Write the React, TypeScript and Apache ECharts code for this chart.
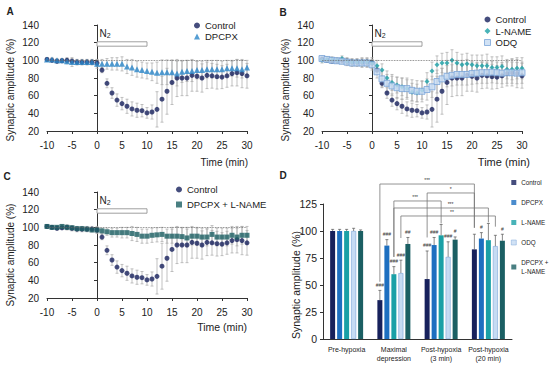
import React, { useEffect, useRef } from 'react';
import * as echarts from 'echarts';

// ---------- data ----------
const times = [-10, -9, -8, -7, -6, -5, -4, -3, -2, -1, 0, 1, 2, 3, 4, 5, 6, 7, 8, 9, 10, 11, 12, 13, 14, 15, 16, 17, 18, 19, 20, 21, 22, 23, 24, 25, 26, 27, 28, 29, 30];

const controlVals = [101, 100, 99, 99.5, 100, 99, 98, 98, 98, 98, 97, 89, 74, 63, 55, 51, 48, 45, 43.5, 43, 40.5, 41.5, 44.5, 56, 65, 75, 80, 80, 80, 83, 82, 80, 83, 82.5, 81.5, 81, 82.5, 85, 86, 85, 82.5];
const controlErr = [2, 2, 2, 2, 3, 3, 3, 3, 3, 3, 4, 3, 5, 6, 7, 7, 8, 8, 8, 7, 6, 8, 20, 26, 26, 25, 21, 20, 20, 18, 17, 16, 15, 14, 14, 13, 13, 14, 15, 16, 14];

const dpcpxVals = [101, 101, 100, 100, 99, 98, 98, 98, 98, 98, 96, 96, 96, 96, 96, 96, 93, 92, 90, 89, 88, 87, 86, 86.5, 86.5, 86.5, 85, 87, 88, 88, 89, 89, 90, 90, 90, 90, 91, 91, 91, 90, 92];
const dpcpxErr = [2, 2, 2, 2, 3, 5, 3, 3, 3, 3, 5, 5, 6, 7, 7, 8, 8, 9, 9, 9, 9, 10, 12, 14, 14, 14, 14, 12, 12, 12, 10, 10, 10, 10, 10, 9, 9, 9, 10, 10, 8];

const lnameVals = [100, 101, 101, 100, 102, 99, 98, 98, 98, 98, 97, 94, 89, 80, 75, 72, 70, 68, 64, 63, 66, 76, 88, 95, 97, 97, 100, 97, 95, 96, 95, 94, 94, 94, 92, 92, 93, 90, 90, 91, 91];
const lnameErr = [3, 3, 3, 3, 3, 4, 4, 4, 5, 5, 6, 6, 7, 8, 9, 9, 10, 10, 10, 10, 10, 10, 10, 10, 11, 12, 12, 12, 12, 12, 11, 12, 12, 13, 12, 12, 12, 11, 12, 12, 12];

const odqVals = [102, 101, 100, 99.5, 99, 98, 97, 97, 97, 97, 95, 87, 79, 74, 71, 69, 68, 68, 66, 65, 65, 67, 70, 76, 79, 82, 83, 84, 84, 84, 85, 85.5, 86, 86, 86.5, 86, 85.5, 86, 86, 85.5, 86];
const odqErr = [3, 3, 3, 3, 3, 4, 4, 4, 5, 5, 6, 7, 9, 10, 11, 12, 12, 12, 12, 12, 12, 12, 12, 13, 12, 12, 12, 12, 12, 12, 12, 12, 12, 12, 12, 12, 12, 12, 12, 12, 12];

const dlVals = [101, 100, 100, 101, 100, 99.5, 98.5, 98.5, 98, 97, 97, 96, 95, 94, 94, 94, 94, 93, 92, 90, 90, 91, 91.5, 92, 90, 90, 90, 89.5, 88, 90, 90, 89, 89, 92, 89, 89, 89, 91, 89, 91, 91];
const dlErr = [2, 2, 2, 2, 2, 2, 2, 2, 2, 2, 3, 3, 4, 5, 5, 6, 6, 8, 8, 8, 8, 8, 8, 8, 8, 8, 10, 10, 10, 10, 10, 10, 10, 10, 10, 10, 10, 10, 10, 10, 10];

const barCategories = ['Pre-hypoxia', 'Maximal\ndepression', 'Post-hypoxia\n(3 min)', 'Post-hypoxia\n(20 min)'];
const barNames = ['Control', 'DPCPX', 'L-NAME', 'ODQ', 'DPCPX + L-NAME'];
const ctrlBar = [100, 36, 55.5, 83];
const dpcpxBar = [100, 86.5, 87, 93];
const lnameBar = [100, 60, 96, 91.5];
const odqBar = [100, 61, 76, 86];
const dlBar = [100, 88, 92, 91];
const ctrlBarErr = [1.5, 9, 26, 14];
const dpcpxBarErr = [1.5, 5.5, 7, 5.5];
const lnameBarErr = [1.5, 7, 10, 15.5];
const odqBarErr = [2.5, 12, 14, 10];
const dlBarErr = [1, 6, 2.5, 6];
const ctrlSig = ['', '###', '###', ''];
const dpcpxSig = ['', '###', '###', '#'];
const lnameSig = ['', '###', '', ''];
const odqSig = ['', '###', '###', ''];
const dlSig = ['', '##', '#', '#'];

// brackets: [fromCat, fromBar, toCat, toBar, level, dropFrom, dropTo, labelFrac]
const brackets = [
  [1, 0, 3, 0, 143.5, 53, 103, 0.5],
  [2, 0, 3, 0, 135.2, 94, 103, 0.5],
  [1, 2, 2, 2, 127.8, 76, 107, 0.45],
  [1, 2, 3, 2, 121.3, 76, 108, 0.6],
  [1, 3, 3, 3, 113.9, 93.5, 104, 0.54],
];
const bracketLabels = ['***', '*', '***', '***', '**'];

// ---------- styles ----------
const FONT = 'Liberation Sans, Arial, sans-serif';
const navy = '#17215c';
const dpcpxA = '#2a86c8';
const dpcpxB = '#1d6fc0';
const teal = '#1aa0a6';
const odqFill = '#c6dbf3';
const odqBorder = '#7aa5d8';
const darkTeal = '#1b5f63';
const barColors = [navy, dpcpxB, teal, odqFill, darkTeal];
const barData = [ctrlBar, dpcpxBar, lnameBar, odqBar, dlBar];
const barErrs = [ctrlBarErr, dpcpxBarErr, lnameBarErr, odqBarErr, dlBarErr];
const barSigs = [ctrlSig, dpcpxSig, lnameSig, odqSig, dlSig];
const BAR_W = 5;
const BAR_STEP = 7;

function errRender(color: string, cap: number) {
  return (params: any, api: any) => {
    const x = api.value(0), y = api.value(1), e = api.value(2);
    const hi = api.coord([x, y + e]);
    const lo = api.coord([x, y - e]);
    const st = { stroke: color, lineWidth: 0.7 };
    return {
      type: 'group',
      children: [
        { type: 'line', shape: { x1: hi[0], y1: hi[1], x2: lo[0], y2: lo[1] }, style: st },
        { type: 'line', shape: { x1: hi[0] - cap, y1: hi[1], x2: hi[0] + cap, y2: hi[1] }, style: st },
        { type: 'line', shape: { x1: lo[0] - cap, y1: lo[1], x2: lo[0] + cap, y2: lo[1] }, style: st },
      ],
    };
  };
}

function scatterPair(name: string, vals: number[], errs: number[], idx: number, symbol: string, size: number, color: string, extra: any = {}) {
  return [
    {
      type: 'custom',
      name: name + '-err',
      xAxisIndex: idx,
      yAxisIndex: idx,
      renderItem: errRender('#a8a8a8', 1.5),
      data: times.map((t, i) => [t, vals[i], errs[i]]),
      encode: { x: 0, y: 1 },
      silent: true,
      z: 1,
    },
    {
      type: 'scatter',
      name,
      xAxisIndex: idx,
      yAxisIndex: idx,
      symbol,
      symbolSize: size,
      itemStyle: { color, ...(extra.itemStyle || {}) },
      data: times.map((t, i) => [t, vals[i]]),
      z: 3,
      ...(extra.series || {}),
    },
  ];
}

function annotations() {
  return {
    markArea: {
      silent: true,
      itemStyle: { color: '#ffffff', borderColor: '#888', borderWidth: 0.8 },
      label: {
        show: true,
        position: [3, -14],
        formatter: 'N{s|2}',
        fontSize: 10,
        color: '#222',
        fontFamily: FONT,
        rich: { s: { fontSize: 7, padding: [5, 0, 0, 0], color: '#222', fontFamily: FONT } },
      },
      data: [[{ xAxis: 0, yAxis: 116 }, { xAxis: 10, yAxis: 121 }]],
    },
    markLine: {
      silent: true,
      symbol: 'none',
      label: { show: false },
      lineStyle: { color: '#666', type: 'dotted', width: 0.8 },
      data: [[{ coord: [-10, 100] }, { coord: [30, 100] }]],
    },
  };
}

const axisColor = '#333';
function timeXAxis(gridIndex: number) {
  return {
    type: 'value',
    gridIndex,
    min: -10,
    max: 30,
    interval: 5,
    axisLine: { show: true, onZero: false, lineStyle: { color: axisColor, width: 1 } },
    axisTick: { show: true, length: 3, lineStyle: { color: axisColor } },
    axisLabel: { fontSize: 10, color: '#222', margin: 9, fontFamily: FONT },
    splitLine: { show: false },
  };
}
function ampYAxis(gridIndex: number) {
  return {
    type: 'value',
    gridIndex,
    min: 20,
    max: 140,
    interval: 20,
    axisLine: { show: true, lineStyle: { color: axisColor, width: 1 } },
    axisTick: { show: true, length: 3, lineStyle: { color: axisColor } },
    axisLabel: { fontSize: 10, color: '#222', margin: 8, fontFamily: FONT },
    splitLine: { show: false },
  };
}

function txt(text: string, x: number, y: number, size: number, opts: any = {}) {
  return {
    type: 'text',
    x,
    y,
    rotation: opts.rotation || 0,
    style: {
      text,
      fontSize: size,
      fontFamily: FONT,
      fontWeight: opts.bold ? 'bold' : 'normal',
      fill: '#222',
      align: opts.align || 'center',
      verticalAlign: 'middle',
    },
    silent: true,
  };
}

function buildOption() {
  const series: any[] = [];
  // Panel A
  series.push(...scatterPair('Control', controlVals, controlErr, 0, 'circle', 5, navy, { series: annotations() }));
  series.push(...scatterPair('DPCPX', dpcpxVals, dpcpxErr, 0, 'triangle', 6, dpcpxA));
  // Panel B
  series.push(...scatterPair('Control', controlVals, controlErr, 1, 'circle', 5, navy, { series: annotations() }));
  series.push(...scatterPair('L-NAME', lnameVals, lnameErr, 1, 'diamond', 5, teal));
  series.push(...scatterPair('ODQ', odqVals, odqErr, 1, 'rect', 6, odqFill, { itemStyle: { borderColor: odqBorder, borderWidth: 1 } }));
  // Panel C
  series.push(...scatterPair('Control', controlVals, controlErr, 2, 'circle', 5, navy, { series: annotations() }));
  series.push(...scatterPair('DPCPX + L-NAME', dlVals, dlErr, 2, 'rect', 5, darkTeal));

  // Panel D bars
  barNames.forEach((name, s) => {
    series.push({
      type: 'bar',
      name,
      xAxisIndex: 3,
      yAxisIndex: 3,
      barWidth: BAR_W,
      barGap: '40%',
      itemStyle: s === 3 ? { color: odqFill, borderColor: odqBorder, borderWidth: 0.6 } : { color: barColors[s] },
      data: barData[s],
      z: 2,
    });
  });
  // Panel D error bars + significance marks
  const errData: number[][] = [];
  barNames.forEach((_, s) => {
    barCategories.forEach((_c, c) => {
      errData.push([c, s, barData[s][c], barErrs[s][c]]);
    });
  });
  series.push({
    type: 'custom',
    name: 'bar-err',
    xAxisIndex: 3,
    yAxisIndex: 3,
    silent: true,
    clip: false,
    z: 4,
    encode: { x: 0, y: 2 },
    data: errData,
    renderItem: (params: any, api: any) => {
      const c = api.value(0), s = api.value(1), v = api.value(2), e = api.value(3);
      const base = api.coord([c, v]);
      const top = api.coord([c, v + e]);
      const x = base[0] + (s - 2) * BAR_STEP;
      const st = { stroke: '#555', lineWidth: 0.7 };
      const children: any[] = [
        { type: 'line', shape: { x1: x, y1: base[1], x2: x, y2: top[1] }, style: st },
        { type: 'line', shape: { x1: x - 1.5, y1: top[1], x2: x + 1.5, y2: top[1] }, style: st },
      ];
      const sig = barSigs[s][c];
      if (sig) {
        children.push({
          type: 'text',
          x,
          y: top[1] - 3,
          style: { text: sig, fontSize: 5, fontFamily: FONT, fill: '#333', align: 'center', verticalAlign: 'bottom' },
        });
      }
      return { type: 'group', children };
    },
  });
  // Panel D brackets
  series.push({
    type: 'custom',
    name: 'brackets',
    xAxisIndex: 3,
    yAxisIndex: 3,
    silent: true,
    clip: false,
    z: 3,
    encode: { x: 0, y: 4 },
    data: brackets,
    renderItem: (params: any, api: any) => {
      const fc = api.value(0), fb = api.value(1), tc = api.value(2), tb = api.value(3);
      const lvl = api.value(4), d1 = api.value(5), d2 = api.value(6), frac = api.value(7);
      const x1 = api.coord([fc, 0])[0] + (fb - 2) * BAR_STEP;
      const x2 = api.coord([tc, 0])[0] + (tb - 2) * BAR_STEP;
      const yl = api.coord([0, lvl])[1];
      const ya = api.coord([0, d1])[1];
      const yb = api.coord([0, d2])[1];
      return {
        type: 'group',
        children: [
          {
            type: 'polyline',
            shape: { points: [[x1, ya], [x1, yl], [x2, yl], [x2, yb]] },
            style: { stroke: '#777', lineWidth: 0.8, fill: 'none' },
          },
          {
            type: 'text',
            x: x1 + (x2 - x1) * frac,
            y: yl - 1.5,
            style: { text: bracketLabels[params.dataIndex], fontSize: 5, fontFamily: FONT, fill: '#333', align: 'center', verticalAlign: 'bottom' },
          },
        ],
      };
    },
  });

  const legendBase = { orient: 'vertical', selectedMode: false, padding: 0, itemWidth: 5, itemHeight: 5 };
  const legendText = { fontSize: 9.5, lineHeight: 11, color: '#222', fontFamily: FONT, overflow: 'none' };

  return {
    animation: false,
    textStyle: { fontFamily: FONT },
    grid: [
      { left: 47, top: 25, width: 200, height: 106 },
      { left: 322, top: 25, width: 200, height: 106 },
      { left: 47, top: 192, width: 200, height: 106 },
      { left: 323, top: 204, width: 189, height: 135 },
    ],
    xAxis: [
      timeXAxis(0),
      timeXAxis(1),
      timeXAxis(2),
      {
        type: 'category',
        gridIndex: 3,
        data: barCategories,
        axisLine: { show: true, lineStyle: { color: axisColor, width: 1 } },
        axisTick: { show: false },
        axisLabel: { fontSize: 7, lineHeight: 9, color: '#222', margin: 6, interval: 0, fontFamily: FONT },
      },
    ],
    yAxis: [
      ampYAxis(0),
      ampYAxis(1),
      ampYAxis(2),
      {
        type: 'value',
        gridIndex: 3,
        min: 0,
        max: 125,
        interval: 25,
        axisLine: { show: true, lineStyle: { color: axisColor, width: 1 } },
        axisTick: { show: true, length: 3, lineStyle: { color: axisColor } },
        axisLabel: { fontSize: 10.5, color: '#222', margin: 6, fontFamily: FONT },
        splitLine: { show: false },
      },
    ],
    legend: [
      {
        ...legendBase,
        left: 194,
        top: 20,
        itemGap: 0,
        itemWidth: 6,
        itemHeight: 6,
        textStyle: legendText,
        data: [
          { name: 'Control', icon: 'circle', itemStyle: { color: navy } },
          { name: 'DPCPX', icon: 'triangle', itemStyle: { color: dpcpxA } },
        ],
      },
      {
        ...legendBase,
        left: 484,
        top: 14,
        itemGap: 0.5,
        itemWidth: 6,
        itemHeight: 6,
        textStyle: legendText,
        data: [
          { name: 'Control', icon: 'circle', itemStyle: { color: navy } },
          { name: 'L-NAME', icon: 'diamond', itemStyle: { color: teal } },
          { name: 'ODQ', icon: 'rect', itemStyle: { color: odqFill, borderColor: odqBorder, borderWidth: 1 } },
        ],
      },
      {
        ...legendBase,
        left: 176,
        top: 184,
        itemGap: 4,
        itemWidth: 6,
        itemHeight: 6,
        textStyle: legendText,
        data: [
          { name: 'Control', icon: 'circle', itemStyle: { color: navy } },
          { name: 'DPCPX + L-NAME', icon: 'rect', itemStyle: { color: darkTeal } },
        ],
      },
      {
        ...legendBase,
        left: 511,
        top: 178,
        itemGap: 11,
        textStyle: { fontSize: 6.3, lineHeight: 9, color: '#222', fontFamily: FONT, overflow: 'none' },
        formatter: (n: string) => (n === 'DPCPX + L-NAME' ? 'DPCPX +\nL-NAME' : n),
        data: barNames.map((n, s) => ({
          name: n,
          icon: 'rect',
          itemStyle: s === 3 ? { color: odqFill, borderColor: odqBorder, borderWidth: 0.6 } : { color: barColors[s] },
        })),
      },
    ],
    graphic: [
      txt('A', 10, 11, 10, { bold: true }),
      txt('B', 283, 12, 10, { bold: true }),
      txt('C', 7, 176, 10, { bold: true }),
      txt('D', 283, 175, 10, { bold: true }),
      txt('Synaptic amplitude (%)', 10, 90, 10, { rotation: Math.PI / 2 }),
      txt('Synaptic amplitude (%)', 285, 90, 10, { rotation: Math.PI / 2 }),
      txt('Synaptic amplitude (%)', 10, 255, 10, { rotation: Math.PI / 2 }),
      txt('Synaptic amplitude (%)', 296, 285, 10.5, { rotation: Math.PI / 2 }),
      txt('Time (min)', 248, 162, 10, { align: 'right' }),
      txt('Time (min)', 530, 162, 11, { align: 'right' }),
      txt('Time (min)', 247, 327, 10.5, { align: 'right' }),
    ],
    series,
  };
}

export default function App() {
  const ref = useRef<HTMLDivElement>(null);
  useEffect(() => {
    if (!ref.current) return;
    const chart = echarts.init(ref.current, null, { renderer: 'svg' });
    chart.setOption(buildOption() as any);
    return () => chart.dispose();
  }, []);
  return <div ref={ref} style={{ position: 'fixed', left: 0, top: 0, width: 550, height: 366, background: '#fff' }} />;
}
